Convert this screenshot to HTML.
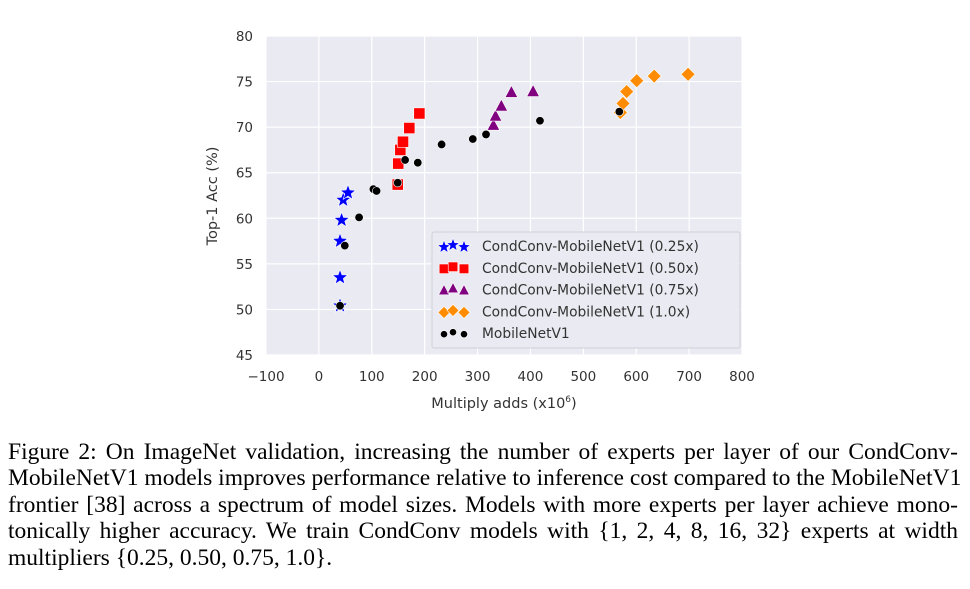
<!DOCTYPE html>
<html><head><meta charset="utf-8">
<style>
body{margin:0;background:#fff;width:970px;height:589px;overflow:hidden;position:relative}
svg{position:absolute;left:0;top:0}
.cap{position:absolute;left:8px;width:950px;font-family:"Liberation Serif",serif;font-size:23.5px;color:#000;white-space:nowrap;text-align:justify;text-align-last:justify;line-height:22px}
.last{text-align-last:left}
</style></head>
<body>
<svg id="chart" width="970" height="430"></svg>
<div class="cap" style="top:441px">Figure 2: On ImageNet validation, increasing the number of experts per layer of our CondConv-</div>
<div class="cap" style="top:467px">MobileNetV1 models improves performance relative to inference cost compared to the MobileNetV1</div>
<div class="cap" style="top:494px">frontier [38] across a spectrum of model sizes. Models with more experts per layer achieve mono-</div>
<div class="cap" style="top:520px">tonically higher accuracy. We train CondConv models with {1, 2, 4, 8, 16, 32} experts at width</div>
<div class="cap last" style="top:547px">multipliers {0.25, 0.50, 0.75, 1.0}.</div>
<script>
const xTicks=[-100,0,100,200,300,400,500,600,700,800];
const yTicks=[45,50,55,60,65,70,75,80];
const s025x=[40,40,40,43,46,55];
const s025y=[50.4,53.5,57.5,59.8,62.0,62.8];
const s050x=[149,150,154,159,171,190];
const s050y=[63.7,66.0,67.5,68.4,69.9,71.5];
const s075x=[330,334,345,364,405];
const s075y=[70.2,71.2,72.3,73.8,73.9];
const s100x=[570,575,582,601,634,698];
const s100y=[71.6,72.6,73.9,75.1,75.6,75.8];
const mbx=[40,49,76,103,109,149,163,187,232,291,316,418,568];
const mby=[50.4,57.0,60.1,63.2,63.0,63.9,66.4,66.1,68.1,68.7,69.2,70.7,71.7];

const L=266,R=742,T=36,B=355;
const X=v=>L+(v+100)/900*(R-L);
const Y=v=>B-(v-45)/35*(B-T);
const NS='http://www.w3.org/2000/svg';
const svg=document.getElementById('chart');
function mk(tag,attrs,parent){const e=document.createElementNS(NS,tag);for(const k in attrs)e.setAttribute(k,attrs[k]);(parent||svg).appendChild(e);return e;}

let bg=mk('rect',{x:L,y:T,width:R-L,height:B-T,fill:'#eaeaf2'});


const font='"DejaVu Sans","Liberation Sans",sans-serif';
xTicks.forEach(t=>{
  let g=mk('line',{x1:X(t),x2:X(t),y1:T,y2:B,stroke:'#fff','stroke-width':1.2});
  
  
  let tx=mk('text',{x:X(t),y:381,'text-anchor':'middle','font-family':font,'font-size':13.5,fill:'#333'});
  tx.textContent=t<0?'\u2212'+(-t):String(t);
  
  
});
yTicks.forEach(t=>{
  let g=mk('line',{x1:L,x2:R,y1:Y(t),y2:Y(t),stroke:'#fff','stroke-width':1.2});
  
  
  let tx=mk('text',{x:253,y:Y(t)+5,'text-anchor':'end','font-family':font,'font-size':13.5,fill:'#333'});
  tx.textContent=String(t);
  
  
});
let xt=mk('text',{x:504,y:408,'text-anchor':'middle','font-family':font,'font-size':14.5,fill:'#333'});
xt.innerHTML='Multiply adds (x10<tspan font-size="9" dy="-6">6</tspan><tspan dy="6">)</tspan>';


let yt=mk('text',{x:0,y:0,'text-anchor':'middle','font-family':font,'font-size':14.5,fill:'#333',transform:'translate(217,196) rotate(-90)'});
yt.textContent='Top-1 Acc (%)';



function star(cx,cy,r,col){let p=[];for(let i=0;i<10;i++){const a=-Math.PI/2+i*Math.PI/5;const rr=i%2?r*0.42:r;p.push((cx+rr*Math.cos(a)).toFixed(1)+','+(cy+rr*Math.sin(a)).toFixed(1));}return mk('polygon',{points:p.join(' '),fill:col,stroke:'#fff','stroke-width':0.6});}
function marker(type,cx,cy,sz){
  if(type==='star')return star(cx,cy,sz*1.15,'#0000ff');
  if(type==='sq')return mk('rect',{x:cx-sz*0.8,y:cy-sz*0.8,width:sz*1.6,height:sz*1.6,fill:'#ff0000',stroke:'#fff','stroke-width':0.6});
  if(type==='tri')return mk('polygon',{points:`${cx},${cy-sz} ${cx-sz*0.9},${cy+sz*0.7} ${cx+sz*0.9},${cy+sz*0.7}`,fill:'#800080',stroke:'#fff','stroke-width':0.6});
  if(type==='dia')return mk('polygon',{points:`${cx},${cy-sz} ${cx+sz},${cy} ${cx},${cy+sz} ${cx-sz},${cy}`,fill:'#ff8c00',stroke:'#fff','stroke-width':0.6});
  return mk('circle',{cx:cx,cy:cy,r:sz*0.6,fill:'#000',stroke:'#fff','stroke-width':0.6});
}
const series=[['star',s025x,s025y,'series-025x-point'],['sq',s050x,s050y,'series-050x-point'],['tri',s075x,s075y,'series-075x-point'],['dia',s100x,s100y,'series-100x-point'],['dot',mbx,mby,'mobilenetv1-point']];
series.forEach(s=>{s[1].forEach((v,i)=>{
  let m=marker(s[0],X(v),Y(s[2][i]),7);
  
  
});});

let lg=mk('rect',{x:432,y:232,width:308,height:116,fill:'#eaeaf2',stroke:'#d0d0d8','stroke-width':1,rx:2});


const labels=['CondConv-MobileNetV1 (0.25x)','CondConv-MobileNetV1 (0.50x)','CondConv-MobileNetV1 (0.75x)','CondConv-MobileNetV1 (1.0x)','MobileNetV1'];
const ltypes=['star','sq','tri','dia','dot'];
labels.forEach((lab,i)=>{
  const cy=246+i*21.8;
  [444,453,464].forEach((cx,j)=>{let m=marker(ltypes[i],cx,cy+(j===1?-1:1),6);
    
    });
  let t=mk('text',{x:482,y:cy+5,'font-family':font,'font-size':13.8,fill:'#333'});
  t.textContent=lab;
  
  
});
</script>
</body></html>
